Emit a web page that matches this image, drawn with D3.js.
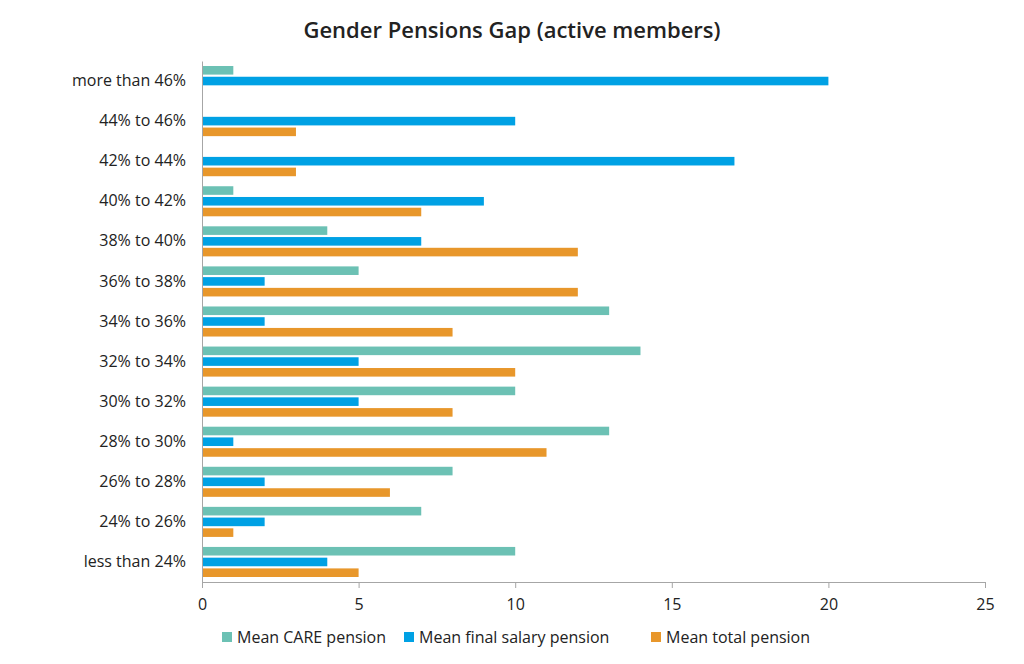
<!DOCTYPE html>
<html>
<head>
<meta charset="utf-8">
<script src="https://cdn.jsdelivr.net/npm/d3@7"></script>
<style>
  body { margin: 0; background: #fff; }
  text { font-family: "Open Sans", "Noto Sans", sans-serif; fill: #222; }
  .axis path, .axis line { stroke: #a6a6a6; }
</style>
</head>
<body>
<div id="chart"></div>
<script>
// categories from top to bottom
var categories = ["more than 46%", "44% to 46%", "42% to 44%", "40% to 42%", "38% to 40%",
  "36% to 38%", "34% to 36%", "32% to 34%", "30% to 32%", "28% to 30%",
  "26% to 28%", "24% to 26%", "less than 24%"];

var seriesNames = ["Mean CARE pension", "Mean final salary pension", "Mean total pension"];
var careValues   = [1, 0, 0, 1, 4, 5, 13, 14, 10, 13, 8, 7, 10];
var finalValues  = [20, 10, 17, 9, 7, 2, 2, 5, 5, 1, 2, 2, 4];
var totalValues  = [0, 3, 3, 7, 12, 12, 8, 10, 8, 11, 6, 1, 5];
var xTicks = [0, 5, 10, 15, 20, 25];
var colors = ["#6cc1b4", "#00a1e4", "#e8972b"];

var svgWidth = 1024;
var svgHeight = 664;

var margin = { top: 61, right: 39, bottom: 82, left: 202 };
var width = svgWidth - margin.left - margin.right;
var height = svgHeight - margin.top - margin.bottom;

var svg = d3.select("#chart")
  .append("svg")
  .attr("width", svgWidth)
  .attr("height", svgHeight);

svg.append("text")
  .attr("x", 512)
  .attr("y", 38)
  .attr("text-anchor", "middle")
  .style("font-size", "22px")
  .style("font-weight", "600")
  .text("Gender Pensions Gap (active members)");

var chartGroup = svg.append("g")
  .attr("transform", `translate(${margin.left}, ${margin.top})`);

var xScale = d3.scaleLinear().domain([0, 25]).range([0, width]);
var yScale = d3.scaleBand().domain(categories).range([0, height]).paddingInner(0.25).paddingOuter(0.125);
var subScale = d3.scaleBand().domain(seriesNames).range([0, yScale.bandwidth()]).paddingInner(0.2);

var allSeries = [careValues, finalValues, totalValues];

allSeries.forEach(function(vals, i) {
  chartGroup.selectAll(".bar" + i)
    .data(vals)
    .enter()
    .append("rect")
    .attr("class", "bar" + i)
    .attr("x", xScale(0))
    .attr("y", (d, j) => yScale(categories[j]) + subScale(seriesNames[i]))
    .attr("width", d => xScale(d) - xScale(0))
    .attr("height", subScale.bandwidth())
    .attr("fill", colors[i]);
});

// x axis
var xAxis = chartGroup.append("g")
  .attr("class", "axis")
  .attr("transform", `translate(0, ${height})`)
  .call(d3.axisBottom(xScale).tickValues(xTicks).tickSize(6).tickSizeOuter(0).tickPadding(11));
xAxis.selectAll("text").style("font-size", "16px").style("fill", "#222");

// y axis
var yAxis = chartGroup.append("g")
  .attr("class", "axis")
  .call(d3.axisLeft(yScale).tickSize(0).tickPadding(16));
yAxis.selectAll("text").style("font-size", "16px").style("fill", "#222");

// legend
var legendX = [222, 404, 651];
var legend = svg.append("g");
seriesNames.forEach(function(name, i) {
  legend.append("rect")
    .attr("x", legendX[i])
    .attr("y", 632)
    .attr("width", 10)
    .attr("height", 10)
    .attr("fill", colors[i]);
  legend.append("text")
    .attr("x", legendX[i] + 15)
    .attr("y", 643)
    .style("font-size", "16px")
    .text(name);
});
</script>
</body>
</html>
